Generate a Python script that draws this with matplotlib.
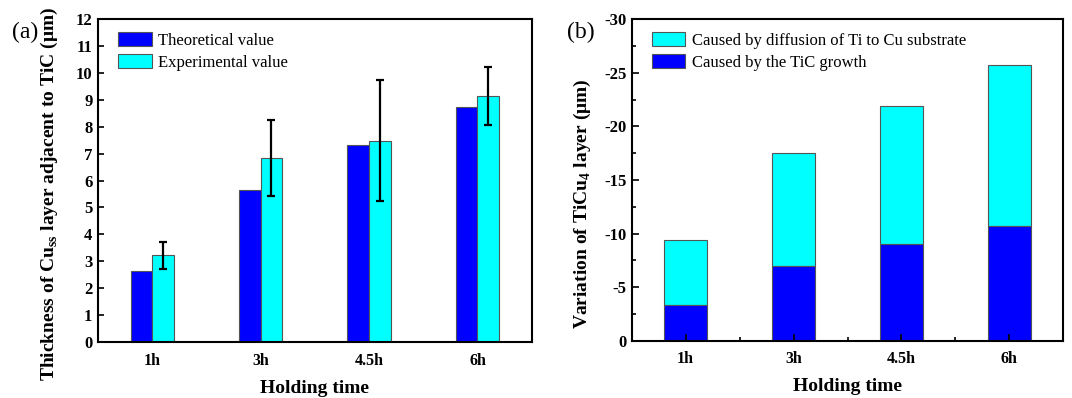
import matplotlib
matplotlib.use("Agg")
import matplotlib.pyplot as plt
import numpy as np

# ---- data ----
categories = ["1h", "3h", "4.5h", "6h"]
theoretical = [2.65, 5.66, 7.32, 8.74]
experimental = [3.22, 6.84, 7.48, 9.13]
exp_error = [0.51, 1.40, 2.25, 1.08]

tic_growth = [-3.31, -6.96, -9.00, -10.73]
ti_diffusion = [-6.10, -10.57, -12.93, -14.97]

plt.rcParams['font.family'] = ['Liberation Serif', 'DejaVu Serif']
plt.rcParams['mathtext.fontset'] = 'custom'
plt.rcParams['mathtext.rm'] = 'Liberation Serif'
plt.rcParams['mathtext.bf'] = 'Liberation Serif:bold'

BLUE = '#0000FF'
CYAN = '#00FFFF'
EDGE = '#555555'

fig = plt.figure(figsize=(10.72, 3.98), dpi=100)
ax1 = fig.add_axes([0.0914, 0.1407, 0.496 - 0.0914, 0.952 - 0.1407])
ax2 = fig.add_axes([0.5893, 0.1437, 0.9919 - 0.5893, 0.952 - 0.1437])

x = np.arange(len(categories))

# ---- panel (a) ----
w = 0.2
ax1.bar(x - w / 2, theoretical, w, color=BLUE, edgecolor=EDGE, linewidth=0.8,
        label='Theoretical value')
ax1.bar(x + w / 2, experimental, w, color=CYAN, edgecolor=EDGE, linewidth=0.8,
        label='Experimental value')
ax1.errorbar(x + w / 2, experimental, yerr=exp_error, fmt='none', ecolor='black',
             elinewidth=1.6, capsize=2.6, capthick=1.6)
ax1.set_xlim(-0.5, 3.5)
ax1.set_ylim(0, 12)
ax1.set_yticks(range(0, 13))
ax1.set_xticks(x)
ax1.set_xticklabels(categories)
ax1.tick_params(axis='x', length=0, pad=8)
ax1.tick_params(axis='y', direction='in', length=4, width=1.2, pad=4)
for lab in ax1.get_xticklabels():
    lab.set_fontweight('bold')
    lab.set_fontsize(11.5)
for lab in ax1.get_yticklabels():
    lab.set_fontweight('bold')
    lab.set_fontsize(12)
for s in ax1.spines.values():
    s.set_linewidth(1.5)
ax1.set_xlabel('Holding time', fontsize=14, fontweight='bold', labelpad=8)
ax1.set_ylabel(r'Thickness of Cu$_{\mathbf{ss}}$ layer adjacent to TiC (μm)',
               fontsize=14, fontweight='bold')
ax1.yaxis.set_label_coords(-0.088, 0.46)
ax1.legend(loc='upper left', frameon=False, fontsize=12, handlelength=2.0,
           handleheight=0.9, handletextpad=0.4, labelspacing=0.3,
           borderaxespad=0.3, bbox_to_anchor=(0.02, 0.995))
fig.text(0.011, 0.905, '(a)', fontsize=17)

# ---- panel (b) ----
wb = 0.4
ax2.bar(x, ti_diffusion, wb, bottom=tic_growth, color=CYAN, edgecolor=EDGE,
        linewidth=0.8, label='Caused by diffusion of Ti to Cu substrate')
ax2.bar(x, tic_growth, wb, color=BLUE, edgecolor=EDGE, linewidth=0.8,
        label='Caused by the TiC growth')
ax2.set_xlim(-0.5, 3.5)
ax2.set_ylim(0, -30)
ax2.set_yticks(np.arange(0, -31, -5))
ax2.set_yticklabels(['0', '-5', '-10', '-15', '-20', '-25', '-30'])
ax2.set_yticks(np.arange(-2.5, -30, -5), minor=True)
ax2.set_xticks(x)
ax2.set_xticks([0.5, 1.5, 2.5], minor=True)
ax2.set_xticklabels(categories)
ax2.tick_params(axis='both', which='major', direction='in', length=5, width=1.2)
ax2.tick_params(axis='both', which='minor', direction='in', length=3, width=1.2)
ax2.tick_params(axis='x', which='major', pad=7)
for lab in ax2.get_xticklabels():
    lab.set_fontweight('bold')
    lab.set_fontsize(11.5)
for lab in ax2.get_yticklabels():
    lab.set_fontweight('bold')
    lab.set_fontsize(12)
for s in ax2.spines.values():
    s.set_linewidth(1.5)
ax2.set_xlabel('Holding time', fontsize=14, fontweight='bold', labelpad=8)
ax2.set_ylabel(r'Variation of TiCu$_{\mathbf{4}}$ layer (μm)',
               fontsize=14, fontweight='bold')
ax2.yaxis.set_label_coords(-0.09, 0.425)
ax2.legend(loc='upper left', frameon=False, fontsize=12, handlelength=2.0,
           handleheight=0.9, handletextpad=0.4, labelspacing=0.3,
           borderaxespad=0.3, bbox_to_anchor=(0.02, 0.995))
fig.text(0.529, 0.905, '(b)', fontsize=17)

fig.savefig('out.png', dpi=100)
